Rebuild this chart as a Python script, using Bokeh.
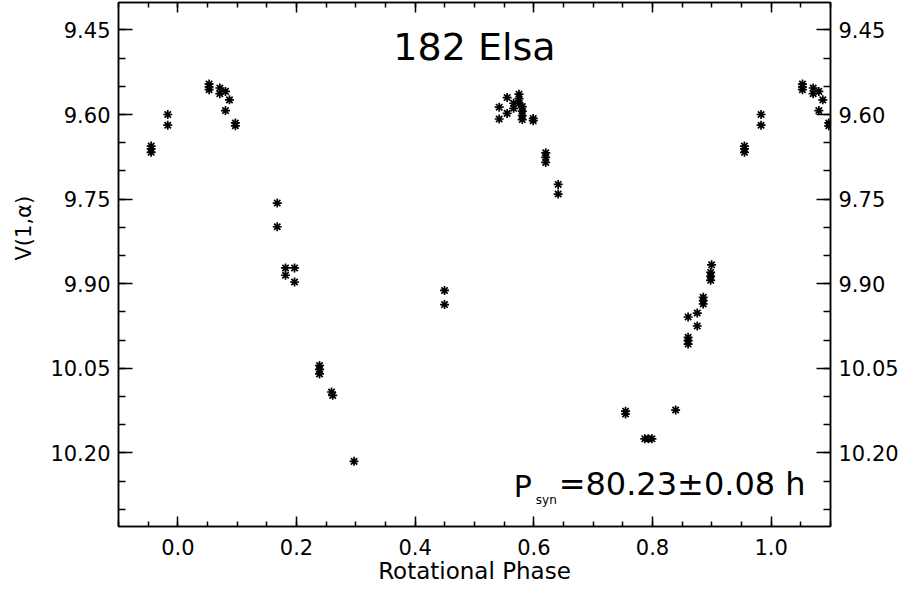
from bokeh.plotting import figure
from bokeh.models import (Range1d, LinearAxis, FixedTicker, Label, Title,
                          PrintfTickFormatter, CustomLabelingPolicy)
from bokeh.embed import file_html
from bokeh.resources import INLINE

# ---- data: rotational phase and reduced magnitude V(1,alpha) ----
phase = [
    0.0527, 0.0527, 0.0527, 0.0708, 0.0708, 0.0803, 0.0870, 0.0803, 0.0970, 0.0970,
    0.1675, 0.1675, 0.1815, 0.1815, 0.1967, 0.1967,
    0.2388, 0.2388, 0.2388, 0.2590, 0.2610, 0.2970,
    0.4495, 0.4495,
    0.5416, 0.5416, 0.5550, 0.5550, 0.5660, 0.5660,
    0.5750, 0.5750, 0.5750, 0.5805, 0.5805, 0.5805, 0.5805,
    0.5990, 0.5990, 0.6200, 0.6200, 0.6200, 0.6410, 0.6410,
    0.7546, 0.7546, 0.7870, 0.7930, 0.7990, 0.8390,
    0.8600, 0.8600, 0.8600, 0.8600, 0.8754, 0.8754,
    0.8855, 0.8855, 0.8855, 0.8980, 0.8980, 0.8980, 0.8996,
    0.9550, 0.9550, 0.9550, 0.9830, 0.9830,
]
mag = [
    9.546, 9.551, 9.556, 9.553, 9.563, 9.559, 9.574, 9.593, 9.615, 9.620,
    9.757, 9.799, 9.872, 9.885, 9.872, 9.897,
    10.045, 10.052, 10.060, 10.092, 10.098, 10.215,
    9.912, 9.937,
    9.587, 9.608, 9.570, 9.598, 9.580, 9.589,
    9.564, 9.572, 9.580, 9.586, 9.594, 9.602, 9.609,
    9.607, 9.611, 9.668, 9.676, 9.685, 9.724, 9.741,
    10.126, 10.131, 10.175, 10.175, 10.175, 10.124,
    9.959, 9.995, 10.001, 10.007, 9.952, 9.975,
    9.924, 9.930, 9.936, 9.880, 9.887, 9.894, 9.8665,
    9.656, 9.661, 9.667, 9.600, 9.619,
]

x_major_ticks = [0.0, 0.2, 0.4, 0.6, 0.8, 1.0]
x_tick_labels = ["0.0", "0.2", "0.4", "0.6", "0.8", "1.0"]
x_minor_ticks = [round(-0.10 + 0.05 * i, 2) for i in range(25)]
y_major_ticks = [9.45, 9.60, 9.75, 9.90, 10.05, 10.20]
y_tick_labels = ["9.45", "9.60", "9.75", "9.90", "10.05", "10.20"]
y_minor_ticks = [round(9.40 + 0.05 * i, 2) for i in range(19)]

title_text = "182 Elsa"
x_title = "Rotational Phase"
y_title = "V(1,\u03b1)"
period_main = "P"
period_sub = "syn"
period_rest = "=80.23\u00b10.08 h"

# phase-folded curve is shown repeated beyond [0, 1)
xs = list(phase) + [p + 1 for p in phase if p < 0.1] + [p - 1 for p in phase if p > 0.9]
ys = list(mag) + [m for p, m in zip(phase, mag) if p < 0.1] + [m for p, m in zip(phase, mag) if p > 0.9]

FONT = "DejaVu Sans"

p = figure(width=904, height=591,
           x_range=Range1d(-0.1, 1.1), y_range=Range1d(10.3305, 9.4014),
           output_backend="svg", toolbar_location=None, title=None,
           min_border_left=118, min_border_right=74, min_border_top=2, min_border_bottom=65,
           background_fill_color="white", border_fill_color="white",
           outline_line_color="black", outline_line_width=1.5)
p.grid.visible = False

p.scatter(xs, ys, marker="asterisk", size=9, line_color="black", line_width=1.7)

xticker = FixedTicker(ticks=x_major_ticks, minor_ticks=x_minor_ticks)
yticker = FixedTicker(ticks=y_major_ticks, minor_ticks=y_minor_ticks)
x_over = dict(zip(x_major_ticks, x_tick_labels))
y_over = dict(zip(y_major_ticks, y_tick_labels))


def style(ax, tin, mtin):
    ax.axis_line_color = "black"
    ax.axis_line_width = 1.5
    ax.major_tick_in = tin
    ax.major_tick_out = 0
    ax.minor_tick_in = mtin
    ax.minor_tick_out = 0
    ax.major_tick_line_color = "black"
    ax.minor_tick_line_color = "black"
    ax.major_tick_line_width = 1.5
    ax.minor_tick_line_width = 1.5
    ax.major_label_text_font = FONT
    ax.major_label_text_font_size = "21px"
    ax.major_label_text_color = "black"
    ax.axis_label_text_font = FONT
    ax.axis_label_text_font_size = "23px"
    ax.axis_label_text_font_style = "normal"
    ax.axis_label_text_color = "black"


xb = p.xaxis[0]
xb.ticker = xticker
xb.formatter = PrintfTickFormatter(format="%.1f")
xb.major_label_overrides = x_over
style(xb, 10, 5)
xb.major_label_standoff = 12
xb.axis_label = x_title
xb.axis_label_standoff = 0

yl = p.yaxis[0]
yl.ticker = yticker
yl.formatter = PrintfTickFormatter(format="%.2f")
yl.major_label_overrides = y_over
style(yl, 14, 7)
yl.major_label_standoff = 8

yr = LinearAxis(ticker=yticker, formatter=PrintfTickFormatter(format="%.2f"),
                major_label_overrides=y_over)
style(yr, 14, 7)
yr.major_label_standoff = 8
p.add_layout(yr, "right")

xt = LinearAxis(ticker=xticker)
style(xt, 10, 5)
xt.major_label_text_font_size = "0px"
xt.major_label_standoff = 0
xt.major_label_policy = CustomLabelingPolicy(code="""
for (let i = 0; i < indices.size; i++) { indices.unset(i) }
return indices
""")
p.add_layout(xt, "above")

# y-axis title, placed a little above the middle as in the original
ytitle = Title(text=y_title, align="left", offset=266, vertical_align="top",
               standoff=20, text_font=FONT, text_font_size="21px",
               text_font_style="normal", text_color="black")
p.add_layout(ytitle, "left")

p.add_layout(Label(x=0.5, y=9.480, text=title_text, text_align="center",
                   text_baseline="alphabetic", text_font=FONT,
                   text_font_size="38px", text_color="black"))
p.add_layout(Label(x=0.566, y=10.2595, text=period_main, text_align="left",
                   text_baseline="alphabetic", text_font=FONT,
                   text_font_size="30px", text_color="black"))
p.add_layout(Label(x=0.6033, y=10.284, text=period_sub, text_align="left",
                   text_baseline="alphabetic", text_font=FONT,
                   text_font_size="12px", text_color="black"))
p.add_layout(Label(x=1.058, y=10.256, text=period_rest, text_align="right",
                   text_baseline="alphabetic", text_font=FONT,
                   text_font_size="32px", text_color="black"))

open("out.html", "w").write(file_html(p, INLINE))
